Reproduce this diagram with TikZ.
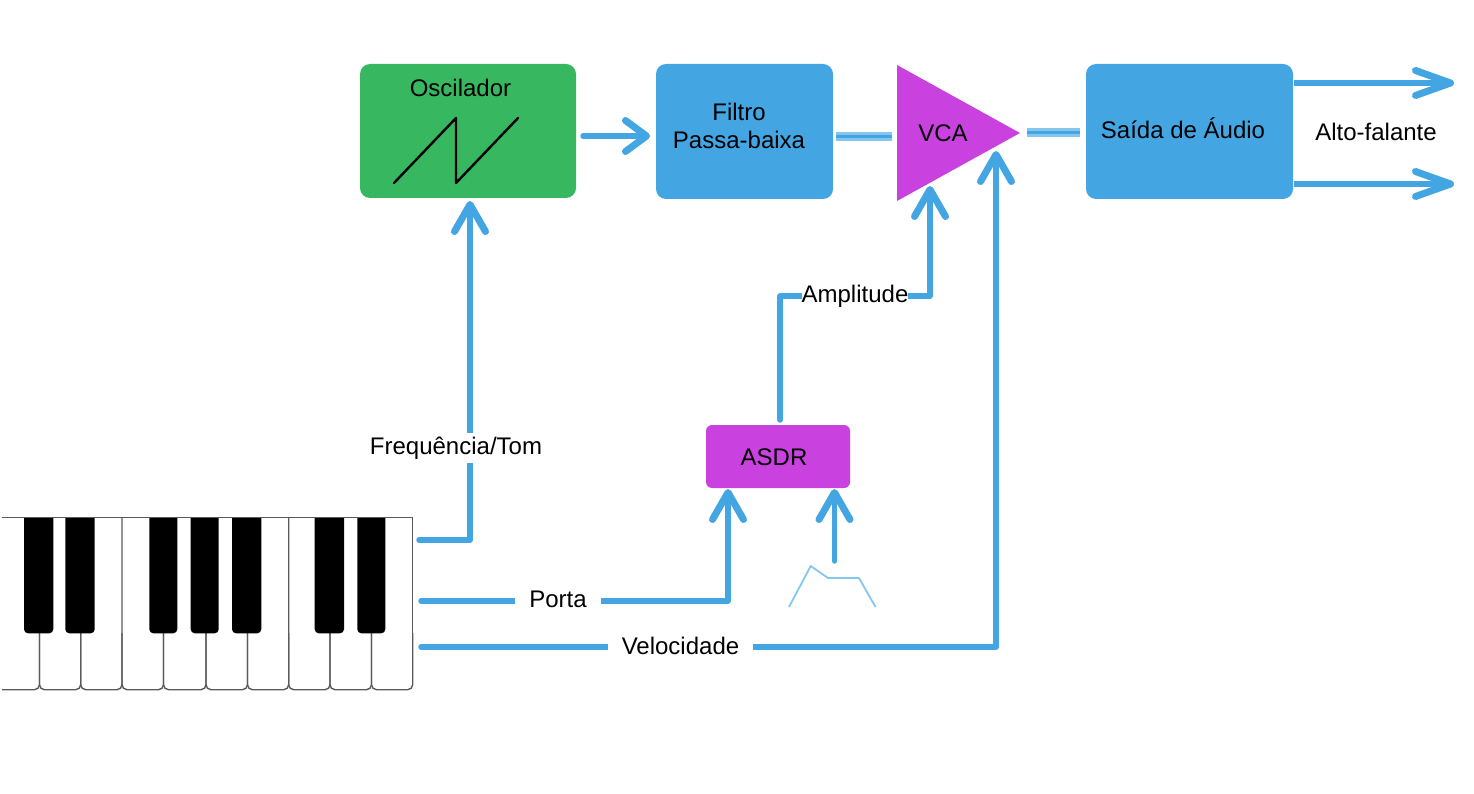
\documentclass[tikz,border=0pt]{standalone}
\usepackage{fontspec}
\setmainfont{Liberation Sans}
\usetikzlibrary{arrows.meta,backgrounds}
\definecolor{synthgreen}{HTML}{38B761}
\definecolor{synthblue}{HTML}{43A6E3}
\definecolor{synthpurple}{HTML}{C942E0}
\definecolor{synthlight}{HTML}{85C6EE}
\definecolor{keyline}{HTML}{5A5A5A}
\tikzset{
  every node/.style={font=\fontsize{24}{28}\selectfont,text=black,inner sep=0pt,outer sep=0pt},
  box/.style={rounded corners=#1,draw=none,minimum width=0pt},
  box/.default=10pt,
  lbl/.style={fill=white,minimum height=30pt},
  wire/.style={draw=synthblue,line width=5.5pt,line cap=round,line join=round},
  bigtip/.style={-{Straight Barb[length=27pt,width=31pt,line width=7pt,round]}},
  sidetip/.style={-{Straight Barb[length=21pt,width=31pt,line width=7pt,round]}},
  outtip/.style={-{Straight Barb[length=35pt,width=25pt,line width=7pt,round]}},
  band/.style={draw=synthlight,line width=9pt},
  bandcore/.style={draw=synthblue,line width=3pt},
  whitekey/.style={draw=keyline,line width=1.4pt,rounded corners=5pt},
}
\begin{document}
\begin{tikzpicture}[x=1pt,y=-1pt]
\useasboundingbox (0,0) rectangle (1474,794);

% keyboard
\node[minimum width=411pt,minimum height=172pt] (keyboard) at (207.5,604) {};
\foreach \xa/\xb/\yt in {39.5/80.7/633,80.7/122/633,122/163.5/518,163.5/206/633,206/247.5/633,247.5/288.7/633,288.7/330/518,330/371.5/633,371.5/412.7/633}{
  \draw[whitekey] (\xa,\yt) -- (\xa,689.7) -- (\xb,689.7) -- (\xb,\yt);
}
\draw[whitekey] (2,689.7) -- (39.5,689.7) -- (39.5,633);
\draw[draw=keyline,line width=1.4pt] (2,517.7) -- (412.7,517.7) -- (412.7,680);
\foreach \xa/\xb in {24/53.3,65.3/94.7,149.3/177.3,190.7/218.7,232/261.3,314.7/344,357.3/385.3}{
  \fill[black] (\xa,518) {[rounded corners=4pt] -- (\xa,633.3) -- (\xb,633.3)} -- (\xb,518) -- cycle;
}
\coordinate (k1) at (419,540);
\coordinate (k2) at (421,601);
\coordinate (k3) at (421,647);

% blocks
\node[box,fill=synthgreen,minimum width=216pt,minimum height=134pt] (osc) at (468,131) {};
\node[box,fill=synthblue,minimum width=177pt,minimum height=135pt] (filter) at (744.5,131.5) {};
\node[box,fill=synthblue,minimum width=207pt,minimum height=135pt] (audio) at (1189.5,131.5) {};
\node[box=6pt,fill=synthpurple,minimum width=144pt,minimum height=63pt] (asdr) at (778,456.5) {};
\coordinate (vcaA) at (897,65);
\coordinate (vcaB) at (1020,133);
\coordinate (vcaC) at (897,201);
\fill[synthpurple] (vcaA) -- (vcaB) -- (vcaC) -- cycle;

% block texts
\node (osctext) at (460.5,88) {Oscilador};
\node[align=center] (filtertext) at (739,126) {Filtro\\Passa-baixa};
\node (vcatext) at (943,133.5) {VCA};
\node (audiotext) at (1183,128) {Saída de Áudio};
\node (asdrtext) at (774,457) {ASDR};
\node (speaker) at (1376,132) {Alto-falante};

% sawtooth
\draw[black,line width=2.4pt,line join=round,line cap=round] (394,183) -- (456,118) -- (456,183) -- (518,118);

% envelope
\coordinate (env) at (834.5,561);
\draw[synthlight,line width=1.8pt,line join=round] (789,607) -- (810.7,566) -- (828,578) -- (859,578) -- (875.5,607);

% labels on the wires
\node[lbl,minimum width=172pt] (freq) at (456,448) {Frequência/Tom};
\node[lbl,minimum width=86pt] (porta) at (558,599) {Porta};
\node[lbl,minimum width=145pt] (velo) at (680.5,646) {Velocidade};
\node[lbl,minimum width=106pt] (amp) at (855,296) {Amplitude};

\begin{scope}[on background layer]
  \draw[wire,bigtip] (k1) -| ([xshift=2pt,yshift=-3pt]osc.south);
  \draw[wire,bigtip] (k2) -| ([xshift=-50pt,yshift=-1pt]asdr.south);
  \draw[wire,bigtip] (env) -- (834.5,489);
  \draw[wire,bigtip] (asdr.north -| 780,0) ++(0,-5) |- (amp.west) -- (amp.east) -| (930,186);
  \draw[wire,bigtip] (k3) -| (996,151);
  \draw[wire,sidetip,shorten <=7pt,shorten >=6pt] (osc.east |- 0,136) -- (filter.west |- 0,136);
  \draw[wire,outtip,line cap=butt] (audio.east |- 0,83) ++(1,0) -- (1454,83);
  \draw[wire,outtip,line cap=butt] (audio.east |- 0,184) ++(1,0) -- (1454,184);
  \draw[band] (filter.east |- 0,137) ++(3,0) -- (891.5,137);
  \draw[bandcore] (filter.east |- 0,137) ++(3,0) -- (891.5,137);
  \draw[band] (vcaB) ++(7,0) -- ([xshift=-6pt]audio.west |- vcaB);
  \draw[bandcore] (vcaB) ++(7,0) -- ([xshift=-6pt]audio.west |- vcaB);
\end{scope}
\end{tikzpicture}
\end{document}
